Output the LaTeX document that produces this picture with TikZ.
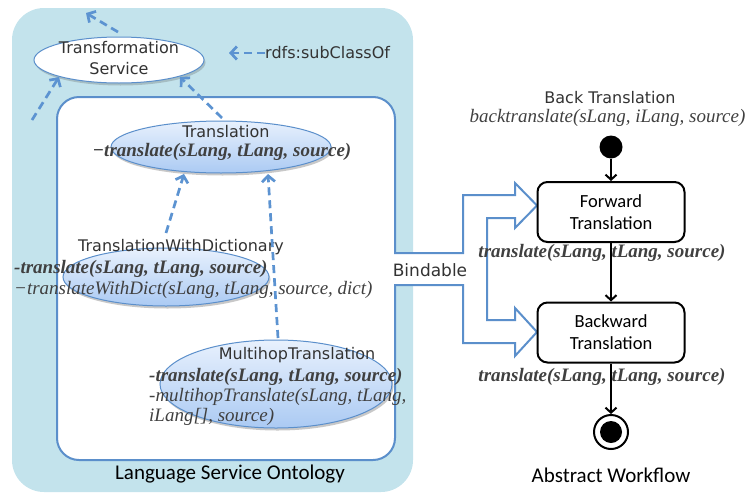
\documentclass[tikz,border=0pt]{standalone}
\usepackage{fontspec}
\setmainfont{Liberation Serif}
\newfontfamily\djv{DejaVu Sans}
\newfontfamily\calib{Carlito}
\usetikzlibrary{shapes.geometric,arrows.meta,shadows}
\definecolor{ltblue}{HTML}{C3E3EC}
\definecolor{edgeblue}{HTML}{5B8FCB}
\definecolor{subblue}{HTML}{5C93D1}
\definecolor{elltop}{HTML}{E8F1FD}
\definecolor{ellbot}{HTML}{ABCAF3}
\definecolor{txt}{HTML}{333333}
\definecolor{itxt}{HTML}{404040}
\begin{document}
\begin{tikzpicture}[x=1pt,y=-1pt,
  sans/.style={font=\djv\fontsize{16}{21}\selectfont, text=txt, inner sep=0pt, align=center},
  calt/.style={font=\calib\fontsize{21}{24}\selectfont, inner sep=0pt},
  boxt/.style={font=\calib\fontsize{18.5}{22}\selectfont, align=center},
  bi/.style={font=\fontsize{19}{21}\selectfont\bfseries\itshape, text=itxt, inner sep=0pt},
  it/.style={font=\fontsize{19}{21}\selectfont\itshape, text=itxt, inner sep=0pt},
  cls/.style={ellipse, draw=edgeblue, line width=1pt, top color=elltop, bottom color=ellbot, inner sep=0pt,
    drop shadow={shadow xshift=1.5pt, shadow yshift=-2.5pt, opacity=0.3, fill=black!70}},
  subc/.style={draw=subblue, dash pattern=on 8pt off 5pt, line width=2.7pt, -{Straight Barb[length=6pt,width=13pt]}},
  edgeline/.style={draw=edgeblue, line width=2pt, line join=miter},
  actbox/.style={draw, line width=2pt, rounded corners=10pt, minimum width=147pt, minimum height=60pt, fill=white},
  flow/.style={line width=2pt, -{Straight Barb[length=5pt,width=11pt]}}
]
\useasboundingbox (0,0) rectangle (747,493);
% ontology background
\fill[ltblue, rounded corners=32pt] (12,8) rectangle (413,492);
\draw[edgeline, fill=white, rounded corners=22pt] (57,97) rectangle (395,460);
% fork arrow (Bindable)
\fill[white] (393,253) -- (463,253) -- (463,195) -- (515,195) -- (515,183) -- (537,205.5) -- (515,228) -- (515,218)
  -- (487,218) -- (487,320) -- (515,320) -- (515,308) -- (537,332) -- (515,356) -- (515,343) -- (463,343)
  -- (463,285) -- (393,285) -- cycle;
\draw[edgeline] (395,252) -- (395,253) -- (463,253) -- (463,195) -- (515,195) -- (515,183) -- (537,205.5) -- (515,228) -- (515,218)
  -- (487,218) -- (487,320) -- (515,320) -- (515,308) -- (537,332) -- (515,356) -- (515,343) -- (463,343)
  -- (463,285) -- (395,285) -- (395,286);
\node[font=\djv\fontsize{17}{20}\selectfont, text=txt, inner sep=0pt] (bind) at (430,270) {Bindable};

% class ellipses
\node[ellipse, draw=edgeblue, line width=1pt, fill=white, minimum width=170pt, minimum height=46pt,
  drop shadow={shadow xshift=1.5pt, shadow yshift=-2.5pt, opacity=0.25, fill=black!70}] (ts) at (119,60) {};
\node[sans] (tstext) at (119,58) {Transformation\\Service};

\node[cls, minimum width=220pt, minimum height=52pt] (tr) at (221,147) {};
\node[sans] (trname) at (226,132) {Translation};
\node[bi] (trop) at (222,152) {−translate(sLang, tLang, source)};

\node[cls, minimum width=206pt, minimum height=58pt] (twd) at (166,277) {};
\node[sans] (twdname) at (181,247) {TranslationWithDictionary};
\node[bi, anchor=west] (twdop1) at (14,269) {-translate(sLang, tLang, source)};
\node[it, anchor=west] (twdop2) at (14,290) {−translateWithDict(sLang, tLang, source, dict)};

\node[cls, minimum width=232pt, minimum height=88pt] (mt) at (276,384) {};
\node[sans] (mtname) at (297,355) {MultihopTranslation};
\node[bi, anchor=west] (mtop1) at (149,377) {-translate(sLang, tLang, source)};
\node[it, anchor=west] (mtop2) at (149,397) {-multihopTranslate(sLang, tLang,};
\node[it, anchor=west] (mtop3) at (149,417) {iLang[], source)};

% subclass arrows
\coordinate (tsa) at (118,32);
\coordinate (tsup) at (86,13);
\coordinate (lfree) at (32,120);
\coordinate (tsl) at (59,77);
\coordinate (trtop) at (222,118);
\coordinate (tsr) at (180,77);
\coordinate (twdtop) at (166,233);
\coordinate (trl) at (184,174);
\coordinate (mttop) at (278,338);
\coordinate (trr) at (268,174);
\draw[subc] (tsa) -- (tsup);
\draw[subc] (lfree) -- (tsl);
\draw[subc] (trtop) -- (tsr);
\draw[subc] (twdtop) -- (trl);
\draw[subc] (mttop) -- (trr);

% legend
\node[sans, anchor=west] (leg) at (265,53) {rdfs:subClassOf};
\coordinate (legend) at (229,53);
\draw[subc] (leg.west) -- (legend);

\node[calt] (lso) at (230,474) {Language Service Ontology};

% abstract workflow
\node[sans] (btname) at (610,98) {Back Translation};
\node[it] (btop) at (607.5,118) {backtranslate(sLang, iLang, source)};
\node[circle, fill=black, minimum size=23pt, inner sep=0pt] (start) at (611,147) {};
\node[actbox, boxt] (fwd) at (611,212) {Forward\\Translation};
\node[actbox, boxt] (bwd) at (611,332.5) {Backward\\Translation};
\node[circle, draw, line width=2pt, minimum size=34pt, inner sep=0pt] (endo) at (611,432) {};
\node[circle, fill=black, minimum size=22pt, inner sep=0pt] (endi) at (611,432) {};
\draw[flow] (start) -- (fwd);
\draw[flow] (fwd) -- (bwd);
\draw[flow] (bwd) -- (endo);
\node[bi] (fwdop) at (602,253) {translate(sLang, tLang, source)};
\node[bi] (bwdop) at (602,377) {translate(sLang, tLang, source)};
\node[calt] (aw) at (611,475) {Abstract Workflow};
\end{tikzpicture}
\end{document}
